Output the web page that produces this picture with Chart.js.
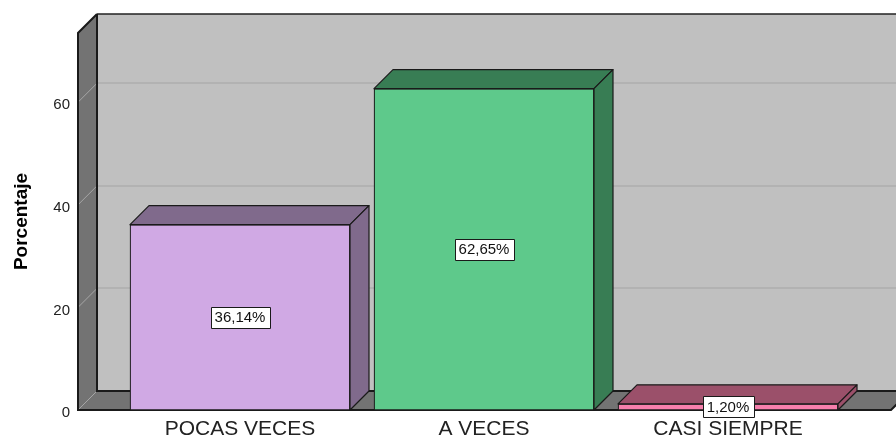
<!DOCTYPE html>
<html>
<head>
<meta charset="utf-8">
<script src="https://cdn.jsdelivr.net/npm/chart.js@4/dist/chart.umd.min.js"></script>
<style>
html,body{margin:0;padding:0;background:#fff;}
#wrap{width:896px;height:439px;}
</style>
</head>
<body>
<div id="wrap"><canvas id="c" width="896" height="439"></canvas></div>
<script>
const categories = ['POCAS VECES', 'A VECES', 'CASI SIEMPRE'];
const percentages = [36.14, 62.65, 1.20];
const valueLabels = ['36,14%', '62,65%', '1,20%'];
const yTickValues = [0, 20, 40, 60];
const yAxisTitle = 'Porcentaje';

const DEPTH = 19;
const shadeColors = ['#806a8c', '#387d54', '#9b506a'];

const walls3d = {
  id: 'walls3d',
  beforeDatasetsDraw(chart) {
    const ctx = chart.ctx, a = chart.chartArea, y = chart.scales.y;
    const fx0 = a.left - 40, fx1 = a.right + 41, top = a.top, bot = a.bottom, d = DEPTH;
    ctx.save();
    ctx.fillStyle = '#c0c0c0';
    ctx.fillRect(fx0 + d, top - d, (fx1 - fx0) + 10, bot - top);
    ctx.strokeStyle = '#b2b2b2';
    ctx.lineWidth = 2;
    yTickValues.forEach(v => {
      if (v === 0) return;
      const py = Math.round(y.getPixelForValue(v)) - d;
      ctx.beginPath(); ctx.moveTo(fx0 + d, py); ctx.lineTo(fx1 + d + 10, py); ctx.stroke();
    });
    ctx.strokeStyle = '#222';
    ctx.lineWidth = 1.5;
    ctx.beginPath(); ctx.moveTo(fx0 + d, top - d); ctx.lineTo(fx1 + d + 10, top - d); ctx.stroke();
    ctx.fillStyle = '#737373';
    ctx.beginPath();
    ctx.moveTo(fx0, top); ctx.lineTo(fx0 + d, top - d); ctx.lineTo(fx0 + d, bot - d); ctx.lineTo(fx0, bot); ctx.closePath();
    ctx.fill();
    ctx.beginPath();
    ctx.moveTo(fx0, bot); ctx.lineTo(fx0 + d, bot - d); ctx.lineTo(fx1 + d, bot - d); ctx.lineTo(fx1, bot); ctx.closePath();
    ctx.fill();
    ctx.strokeStyle = '#a6a6a6';
    ctx.lineWidth = 1;
    yTickValues.forEach(v => {
      const py = y.getPixelForValue(v);
      ctx.beginPath(); ctx.moveTo(fx0, py); ctx.lineTo(fx0 + d, py - d); ctx.stroke();
    });
    ctx.strokeStyle = '#1a1a1a';
    ctx.lineWidth = 2;
    ctx.beginPath(); ctx.moveTo(fx0 + d, top - d); ctx.lineTo(fx0 + d, bot - d); ctx.lineTo(fx1 + d + 10, bot - d); ctx.stroke();
    ctx.beginPath(); ctx.moveTo(fx0 + d, top - d); ctx.lineTo(fx0, top); ctx.lineTo(fx0, bot); ctx.lineTo(fx1, bot); ctx.lineTo(fx1 + d, bot - d); ctx.stroke();
    ctx.restore();
  },
  afterDatasetsDraw(chart) {
    const ctx = chart.ctx, d = DEPTH;
    const meta = chart.getDatasetMeta(0);
    ctx.save();
    ctx.strokeStyle = '#1a1a1a';
    ctx.lineWidth = 1.2;
    ctx.lineJoin = 'round';
    meta.data.forEach((bar, i) => {
      const x0 = bar.x - bar.width / 2, x1 = bar.x + bar.width / 2;
      const yt = bar.y, yb = bar.base;
      ctx.fillStyle = shadeColors[i];
      ctx.beginPath();
      ctx.moveTo(x0, yt); ctx.lineTo(x0 + d, yt - d); ctx.lineTo(x1 + d, yt - d); ctx.lineTo(x1, yt); ctx.closePath();
      ctx.fill(); ctx.stroke();
      ctx.beginPath();
      ctx.moveTo(x1, yt); ctx.lineTo(x1 + d, yt - d); ctx.lineTo(x1 + d, yb - d); ctx.lineTo(x1, yb); ctx.closePath();
      ctx.fill(); ctx.stroke();
    });
    ctx.font = '15px "Liberation Sans", Arial, sans-serif';
    ctx.textAlign = 'center';
    ctx.textBaseline = 'middle';
    meta.data.forEach((bar, i) => {
      const cx = bar.x, cy = (bar.y + bar.base) / 2;
      const tw = ctx.measureText(valueLabels[i]).width;
      const w = Math.round(tw + 8), h = 21;
      const bx = Math.round(cx - w / 2) + 0.5, by = Math.round(cy - h / 2) + 0.5;
      ctx.fillStyle = '#ffffff';
      ctx.fillRect(bx, by, w, h);
      ctx.strokeStyle = '#1a1a1a';
      ctx.lineWidth = 1;
      ctx.strokeRect(bx, by, w, h);
      ctx.fillStyle = '#111';
      ctx.fillText(valueLabels[i], cx, cy + 1);
    });
    ctx.restore();
  }
};

new Chart(document.getElementById('c'), {
  type: 'bar',
  data: {
    labels: categories,
    datasets: [{
      data: percentages,
      backgroundColor: ['#d0a9e4', '#5ec98b', '#f67fac'],
      borderColor: '#1a1a1a',
      borderWidth: 1.2,
      borderSkipped: false,
      barThickness: 220
    }]
  },
  options: {
    responsive: false,
    animation: false,
    layout: { padding: { top: 33, right: 46, bottom: 0, left: 6 } },
    plugins: { legend: { display: false }, tooltip: { enabled: false } },
    scales: {
      x: {
        afterFit: s => { s.height = 29; s.paddingLeft = 0; s.paddingRight = 0; },
        grid: { display: false, drawTicks: false },
        border: { display: false },
        ticks: {
          padding: 7,
          color: '#222',
          font: { family: '"Liberation Sans", Arial, sans-serif', size: 21 }
        }
      },
      y: {
        min: 0,
        max: 73.5,
        afterBuildTicks: s => { s.ticks = yTickValues.map(v => ({ value: v })); },
        afterFit: s => { s.width = 112; s.paddingTop = 0; s.paddingBottom = 0; },
        grid: { display: false, drawTicks: false },
        border: { display: false },
        ticks: {
          padding: 48,
          labelOffset: 3,
          color: '#222',
          font: { family: '"Liberation Sans", Arial, sans-serif', size: 15 }
        },
        title: {
          display: true,
          text: yAxisTitle,
          color: '#000',
          font: { family: '"Liberation Sans", Arial, sans-serif', size: 19, weight: 'bold' },
          padding: { top: 4, bottom: 4 }
        }
      }
    }
  },
  plugins: [walls3d]
});
</script>
</body>
</html>
